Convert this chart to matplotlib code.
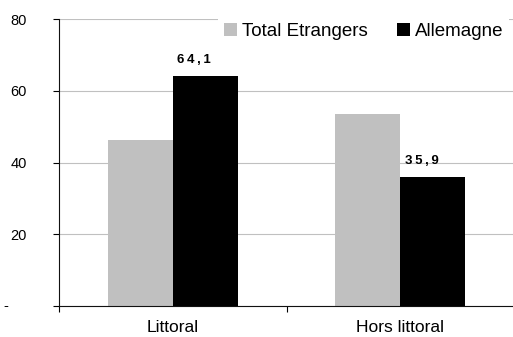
import matplotlib.pyplot as plt
import numpy as np

plt.rcParams['font.family'] = ['Liberation Sans', 'DejaVu Sans']

categories = ['Littoral', 'Hors littoral']
total_etrangers = [46.4, 53.6]
allemagne = [64.1, 35.9]
yticks = [0, 20, 40, 60, 80]
ytick_labels = ['', '20', '40', '60', '80']

fig = plt.figure(figsize=(5.13, 3.37), dpi=100)
ax = fig.add_axes([0.115, 0.092, 0.887, 0.851])

x = np.arange(len(categories))
w = 0.286
ax.bar(x - w / 2, total_etrangers, w, color='#c0c0c0', label='Total Etrangers', zorder=2)
ax.bar(x + w / 2, allemagne, w, color='black', label='Allemagne', zorder=2)

# value labels over the Allemagne bars
for xi, v in zip(x, allemagne):
    txt = '\u2009'.join(f'{v:.1f}'.replace('.', ','))
    ax.annotate(txt, (xi + w / 2, v), xytext=(-8, 7.5), textcoords='offset points',
                ha='center', va='bottom', fontsize=9.5, fontweight='bold')

ax.set_xlim(-0.5, 1.5)
ax.set_ylim(0, 80)
ax.set_yticks(yticks)
ax.set_yticklabels(ytick_labels, fontsize=10.5)
ax.tick_params(axis='y', length=4.3, width=0.8, pad=19)
# zero is shown as a dash, set further left
ax.annotate('-', (0, 0), xycoords=ax.get_yaxis_transform(), xytext=(-40, 0),
            textcoords='offset points', ha='left', va='center', fontsize=10.5)

ax.set_xticks([-0.5, 0.5, 1.5])
ax.set_xticklabels([])
ax.set_xticks(x, minor=True)
ax.set_xticklabels(categories, minor=True, fontsize=12.5)
ax.tick_params(axis='x', which='major', length=4, width=0.8)
ax.tick_params(axis='x', which='minor', length=0, pad=10)

ax.grid(axis='y', color='#c0c0c0', linewidth=0.8, zorder=0)
ax.set_axisbelow(True)
for s in ['top', 'right']:
    ax.spines[s].set_visible(False)
for s in ['left', 'bottom']:
    ax.spines[s].set_color('#111111')
    ax.spines[s].set_linewidth(0.8)

leg = ax.legend(loc='upper right', bbox_to_anchor=(1.01, 1.04), ncol=2, fontsize=13.5,
                frameon=True, fancybox=False, edgecolor='none', facecolor='white',
                framealpha=1, handlelength=0.7, handleheight=0.7, handletextpad=0.25,
                columnspacing=1.6, borderpad=0.3)

fig.savefig('out.png', dpi=100)
